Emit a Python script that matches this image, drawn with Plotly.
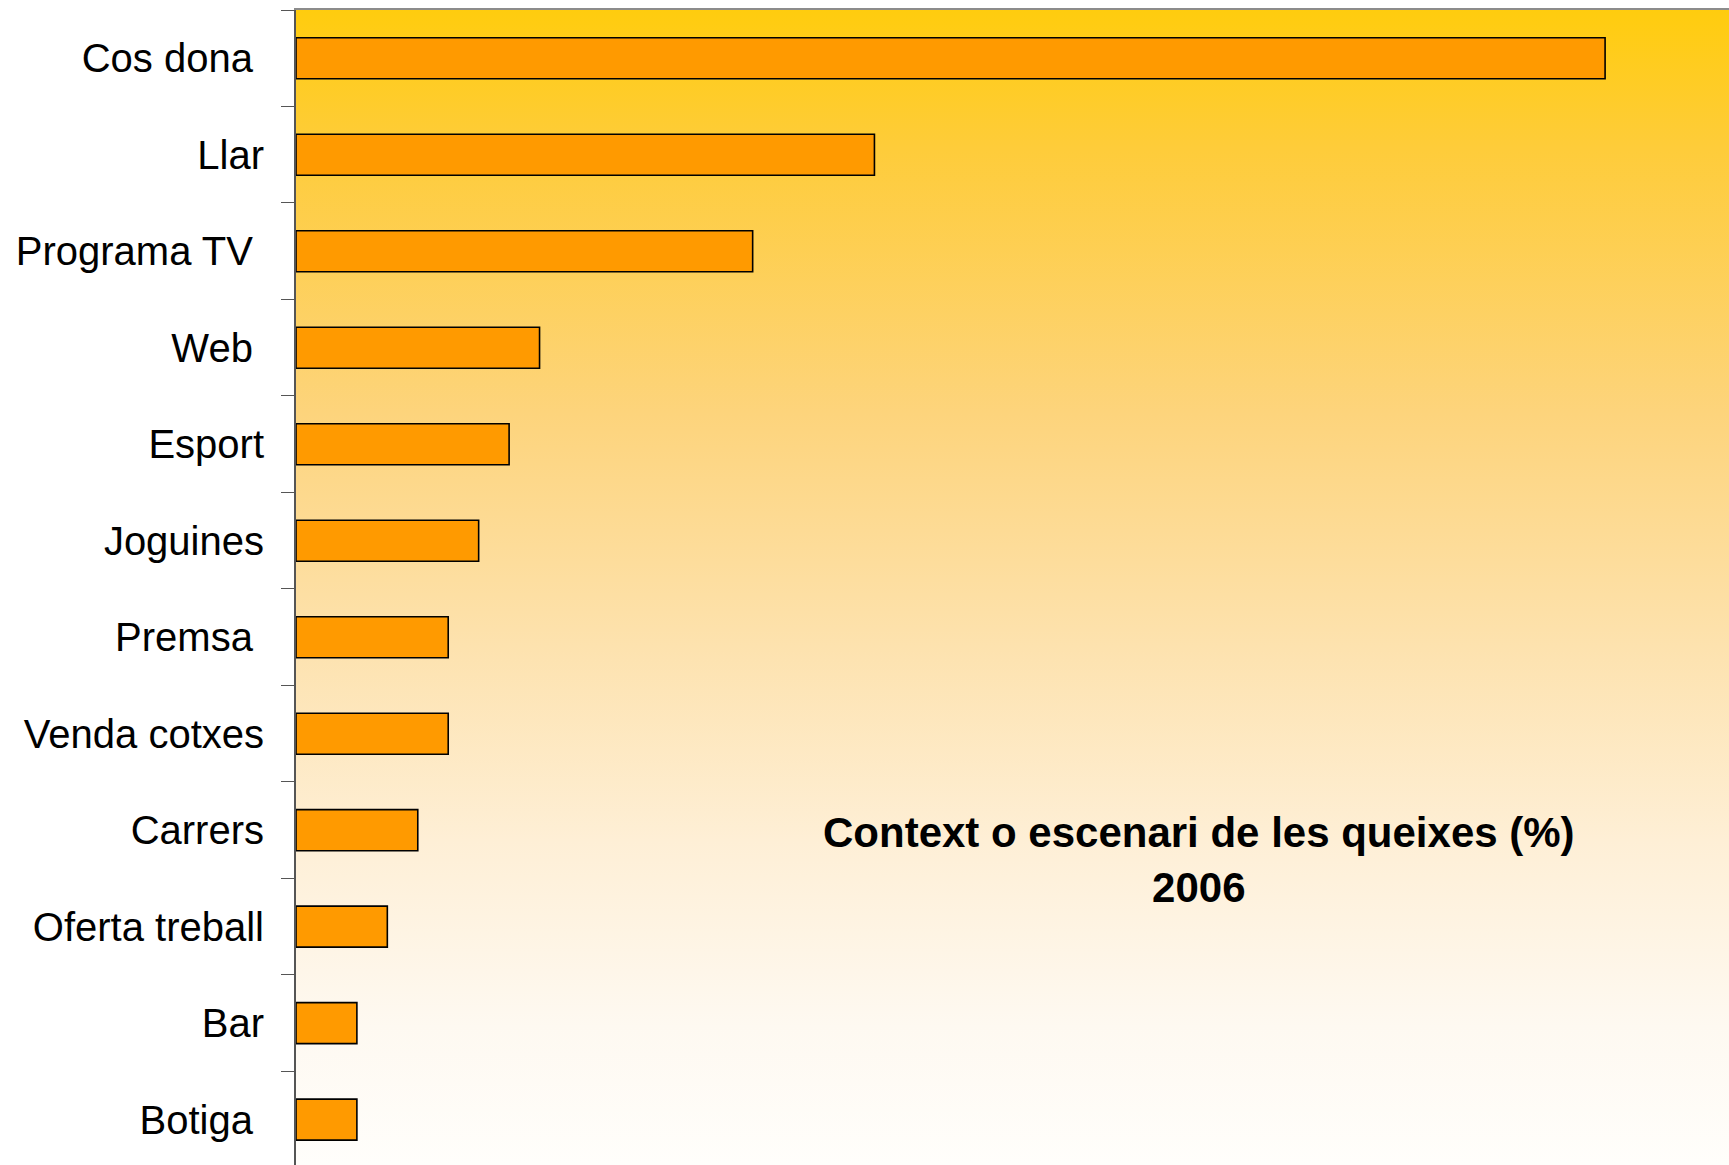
import base64
import plotly.graph_objects as go

# ---- data ----
categories = ["Cos dona\u00a0", "Llar", "Programa TV\u00a0", "Web\u00a0", "Esport", "Joguines",
              "Premsa\u00a0", "Venda cotxes", "Carrers", "Oferta treball", "Bar", "Botiga\u00a0"]
values = [43, 19, 15, 8, 7, 6, 5, 5, 4, 3, 2, 2]
title_lines = ["Context o escenari de les queixes (%)", "2006"]

# ---- background gradient (plot area only) ----
svg = """<svg xmlns='http://www.w3.org/2000/svg' width='100' height='100' preserveAspectRatio='none'>
<defs><linearGradient id='g' x1='0' y1='0' x2='0' y2='1'>
<stop offset='0' stop-color='#FFCC0E'/>
<stop offset='0.12' stop-color='#FECC3A'/>
<stop offset='0.35' stop-color='#FDD47C'/>
<stop offset='0.55' stop-color='#FDE2AE'/>
<stop offset='0.72' stop-color='#FEEFD6'/>
<stop offset='0.88' stop-color='#FEF9F1'/>
<stop offset='1' stop-color='#FFFEFB'/>
</linearGradient></defs>
<rect x='0' y='0' width='100' height='100' fill='url(#g)'/></svg>"""
svg_uri = "data:image/svg+xml;base64," + base64.b64encode(svg.encode()).decode()

fig = go.Figure()
fig.add_trace(go.Bar(
    x=values, y=categories, orientation="h",
    width=0.425,
    marker=dict(color="#FF9A00", line=dict(color="#000000", width=1.6)),
    hoverinfo="x+y",
))

fig.add_layout_image(dict(
    source=svg_uri, xref="paper", yref="paper", x=0, y=1,
    sizex=1, sizey=1, sizing="stretch", layer="below",
    xanchor="left", yanchor="top",
))

W, H = 1729, 1165
ML, MT = 296, 10
plot_w, plot_h = W - ML, H - MT

fig.add_annotation(
    text="<b>" + title_lines[0] + "</b><br><b>" + title_lines[1] + "</b>",
    xref="paper", yref="paper",
    x=(1199 - ML) / plot_w, y=1 - (860 - MT) / plot_h,
    xanchor="center", yanchor="middle",
    showarrow=False, align="center",
    font=dict(family="Liberation Sans, Arial, sans-serif", size=42, color="#000000"),
)

fig.update_layout(
    width=W, height=H,
    margin=dict(l=ML, r=0, t=MT, b=0),
    paper_bgcolor="#FFFFFF",
    plot_bgcolor="rgba(0,0,0,0)",
    showlegend=False,
    font=dict(family="Liberation Sans, Arial, sans-serif", color="#000000"),
    bargap=0.5,
)

fig.update_xaxes(
    range=[0, 47.07], side="top",
    showgrid=False, zeroline=False,
    showticklabels=False, ticks="",
    showline=True, linecolor="#8C8C8C", linewidth=2,
)
fig.update_yaxes(
    categoryorder="array", categoryarray=categories,
    range=[11.47, -0.5],
    showgrid=False, zeroline=False,
    showline=True, linecolor="#555555", linewidth=2,
    ticks="outside", ticklen=13, tickcolor="#555555", tickwidth=1.2,
    tickson="boundaries",
    ticklabelstandoff=22,
    tickfont=dict(family="Liberation Sans, Arial, sans-serif", size=40, color="#000000"),
)

fig.write_html(
    "out.html",
    config={"displayModeBar": False},
    post_script="document.body.style.margin='0';document.body.style.overflow='hidden';",
)
